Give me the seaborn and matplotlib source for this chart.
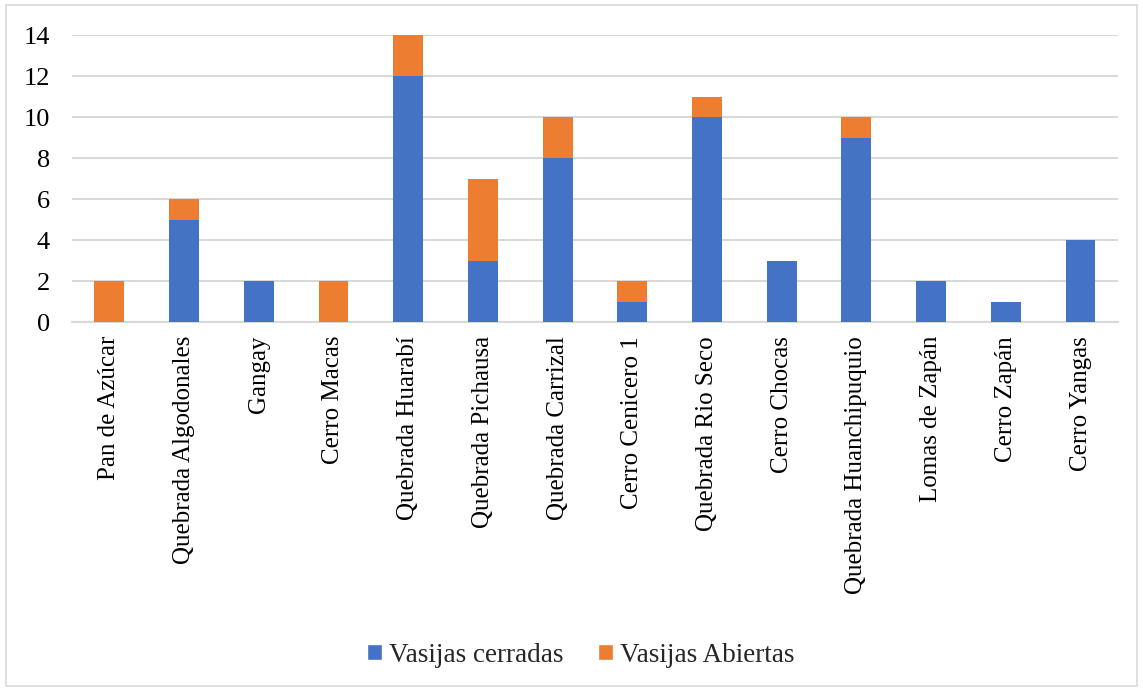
import matplotlib
matplotlib.use("Agg")
import matplotlib.pyplot as plt
from matplotlib.patches import Rectangle, Patch
import seaborn as sns
import pandas as pd

sitios = ["Pan de Azúcar", "Quebrada Algodonales", "Gangay", "Cerro Macas",
          "Quebrada Huarabí", "Quebrada Pichausa", "Quebrada Carrizal",
          "Cerro Cenicero 1", "Quebrada Rio Seco", "Cerro Chocas",
          "Quebrada Huanchipuquio", "Lomas de Zapán", "Cerro Zapán", "Cerro Yangas"]
cerradas = [0, 5, 2, 0, 12, 3, 8, 1, 10, 3, 9, 2, 1, 4]
abiertas = [2, 1, 0, 2, 2, 4, 2, 1, 1, 0, 1, 0, 0, 0]
yticks = [0, 2, 4, 6, 8, 10, 12, 14]

azul = "#4472C4"
naranja = "#ED7D31"
gris = "#D9D9D9"

df = pd.DataFrame({"sitio": sitios, "cerradas": cerradas, "abiertas": abiertas})
df["total"] = df["cerradas"] + df["abiertas"]

sns.set_theme(style="white")
plt.rcParams["font.family"] = ["Liberation Serif", "DejaVu Serif"]

fig = plt.figure(figsize=(11.43, 6.91), dpi=100)
ax = fig.add_axes([0.063, 0.534, 0.915, 0.415])

# stacked bars: total (orange) behind, closed vessels (blue) in front
sns.barplot(data=df, x="sitio", y="total", color=naranja, saturation=1,
            width=0.4, ax=ax, linewidth=0, zorder=3)
sns.barplot(data=df, x="sitio", y="cerradas", color=azul, saturation=1,
            width=0.4, ax=ax, linewidth=0, zorder=4)

ax.set_ylim(0, 14)
ax.set_xlim(-0.5, len(sitios) - 0.5)
ax.set_yticks(yticks)
ax.set_yticklabels([str(t) for t in yticks], fontsize=19)
ax.set_xticks(range(len(sitios)))
ax.set_xticklabels(sitios, rotation=90, fontsize=18)
ax.tick_params(axis="both", length=0, colors="black")
ax.tick_params(axis="x", pad=10)
ax.tick_params(axis="y", pad=16)
ax.set_xlabel("")
ax.set_ylabel("")
ax.yaxis.grid(True, color=gris, linewidth=1.5, zorder=0)
ax.set_axisbelow(True)
for side in ["top", "right", "left"]:
    ax.spines[side].set_visible(False)
ax.spines["bottom"].set_color(gris)
ax.spines["bottom"].set_linewidth(1.5)

handles = [Patch(facecolor=azul, label="Vasijas cerradas"),
           Patch(facecolor=naranja, label="Vasijas Abiertas")]
fig.legend(handles=handles, loc="center", bbox_to_anchor=(0.508, 0.052),
           ncol=2, frameon=False, fontsize=19.5, handlelength=0.55,
           handleheight=0.55, handletextpad=0.25, columnspacing=1.3)

fig.patches.append(Rectangle((0.005, 0.007), 0.99, 0.986, transform=fig.transFigure,
                             fill=False, edgecolor=gris, linewidth=1.2))

fig.savefig("out.png", dpi=100)
